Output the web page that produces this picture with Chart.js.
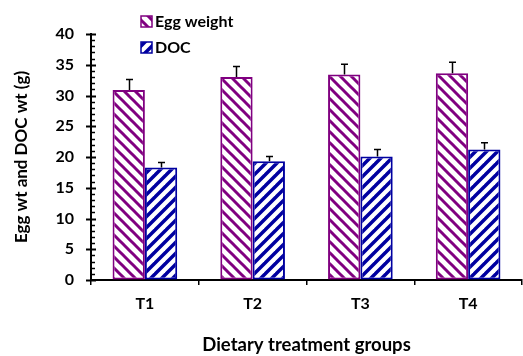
<!DOCTYPE html>
<html>
<head>
<meta charset="utf-8">
<script src="https://cdn.jsdelivr.net/npm/chart.js@4"></script>
<style>
  html, body { margin: 0; padding: 0; background: #fff; }
  #wrap { width: 523px; height: 356px; }
</style>
</head>
<body>
<div id="wrap"><canvas id="c" width="523" height="356"></canvas></div>
<script>
/* Egg weight / DOC weight by dietary group — hatched bars with SE */

const GROUPS = ["T1", "T2", "T3", "T4"];
const EGG_WT = [30.9, 33.0, 33.4, 33.6];
const EGG_ERR = [1.7, 1.7, 1.7, 1.8];
const DOC_WT = [18.3, 19.3, 20.1, 21.2];
const DOC_ERR = [0.8, 0.8, 1.1, 1.1];
const SERIES_NAMES = ["Egg weight", "DOC"];

const PURPLE = "#800080";
const BLUE = "#0000a0";
const FONT = "Lato, 'Open Sans', sans-serif";

// diagonal hatch tile; dir 1 = "\" , -1 = "/"
function hatch(color, dir, size, width) {
    const t = document.createElement("canvas");
    t.width = size; t.height = size;
    const g = t.getContext("2d");
    g.fillStyle = "#fff";
    g.fillRect(0, 0, size, size);
    g.strokeStyle = color;
    g.lineWidth = width;
    g.lineCap = "square";
    for (let k = -1; k <= 1; k++) {
        g.beginPath();
        if (dir > 0) {
            g.moveTo(k * size, 0);
            g.lineTo(k * size + size, size);
        } else {
            g.moveTo(k * size + size, 0);
            g.lineTo(k * size, size);
        }
        g.stroke();
    }
    return g.createPattern(t, "repeat");
}

const ctx = document.getElementById("c");
const eggFill = hatch(PURPLE, 1, 11, 3);
const docFill = hatch(BLUE, -1, 11, 3.5);

// minor/major ticks on y axis
const yTicks = {
    id: "yTicks",
    afterDraw(chart) {
        const y = chart.scales.y;
        const g = chart.ctx;
        const x0 = chart.chartArea.left;
        g.save();
        g.strokeStyle = "#000";
        for (let v = y.min; v <= y.max; v++) {
            const py = Math.round(y.getPixelForValue(v)) + 0.5;
            g.beginPath();
            if (v % 5 === 0) {
                g.lineWidth = 2;
                g.moveTo(x0 - 5, py);
                g.lineTo(x0 + 5, py);
            } else {
                g.lineWidth = 1.5;
                g.moveTo(x0, py);
                g.lineTo(x0 + 4, py);
            }
            g.stroke();
        }
        g.restore();
    },
};

// upward error bars
const errBars = {
    id: "errBars",
    afterDatasetsDraw(chart) {
        const g = chart.ctx;
        const y = chart.scales.y;
        const errs = [EGG_ERR, DOC_ERR];
        g.save();
        g.strokeStyle = "#000";
        g.lineWidth = 1.5;
        chart.data.datasets.forEach((ds, i) => {
            chart.getDatasetMeta(i).data.forEach((bar, j) => {
                const top = y.getPixelForValue(ds.data[j] + errs[i][j]);
                const cx = Math.round(bar.x) + 0.5;
                g.beginPath();
                g.moveTo(cx, bar.y);
                g.lineTo(cx, top);
                g.moveTo(cx - 3.5, top);
                g.lineTo(cx + 3.5, top);
                g.stroke();
            });
        });
        g.restore();
    },
};

// legend stacked in the upper left
const stackLegend = {
    id: "stackLegend",
    afterDraw(chart) {
        const g = chart.ctx;
        const fills = [eggFill, docFill];
        const strokes = [PURPLE, BLUE];
        g.save();
        g.font = "bold 16px " + FONT;
        g.textBaseline = "middle";
        chart.data.datasets.forEach((ds, i) => {
            const by = 16 + i * 26;
            g.fillStyle = fills[i];
            g.fillRect(141, by, 11, 11);
            g.strokeStyle = strokes[i];
            g.lineWidth = 1.5;
            g.strokeRect(141, by, 11, 11);
            g.fillStyle = "#000";
            g.fillText(ds.label, 155, by + 6);
        });
        g.restore();
    },
};

new Chart(ctx, {
    type: "bar",
    data: {
        labels: GROUPS,
        datasets: [
            {
                label: SERIES_NAMES[0],
                data: EGG_WT,
                backgroundColor: eggFill,
                borderColor: PURPLE,
                borderWidth: 2,
                borderSkipped: false,
            },
            {
                label: SERIES_NAMES[1],
                data: DOC_WT,
                backgroundColor: docFill,
                borderColor: BLUE,
                borderWidth: 2,
                borderSkipped: false,
            },
        ],
    },
    options: {
        responsive: false,
        animation: false,
        events: [],
        layout: { padding: { top: 34, right: 1, left: 0, bottom: 0 } },
        categoryPercentage: 0.6,
        barPercentage: 1.0,
        scales: {
            x: {
                afterFit: (s) => { s.height = 76; },
                grid: {
                    offset: true,
                    drawOnChartArea: false,
                    tickLength: 5,
                    color: "#000",
                    lineWidth: 1.5,
                },
                border: { display: true, color: "#000", width: 2 },
                ticks: {
                    color: "#000",
                    padding: 9,
                    font: { family: FONT, size: 16, weight: "bold" },
                },
                title: {
                    display: true,
                    text: "Dietary treatment groups",
                    color: "#000",
                    padding: { top: 0, bottom: 0 },
                    font: { family: FONT, size: 18.5, weight: "bold" },
                },
            },
            y: {
                min: 0,
                max: 40,
                afterFit: (s) => { s.width = 91; },
                grid: { drawOnChartArea: false, drawTicks: false },
                border: { display: true, color: "#000", width: 2 },
                ticks: {
                    stepSize: 5,
                    color: "#000",
                    padding: 17,
                    font: { family: FONT, size: 16, weight: "bold" },
                },
                title: {
                    display: true,
                    text: "Egg wt and DOC wt (g)",
                    color: "#000",
                    padding: { top: 11, bottom: 0 },
                    font: { family: FONT, size: 17, weight: "bold" },
                },
            },
        },
        plugins: {
            legend: { display: false },
            tooltip: { enabled: false },
        },
    },
    plugins: [yTicks, errBars, stackLegend],
});
</script>
</body>
</html>
